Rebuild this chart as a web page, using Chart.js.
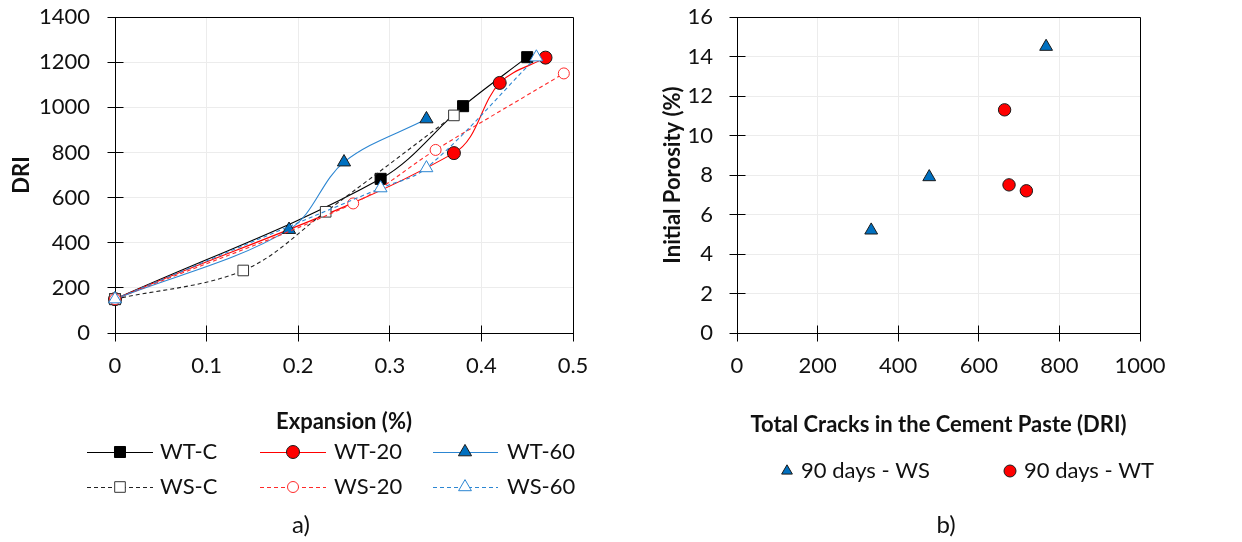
<!DOCTYPE html>
<html>
<head>
<meta charset="utf-8">
<script src="https://cdn.jsdelivr.net/npm/chart.js@4.4.1/dist/chart.umd.min.js"></script>
<style>
  html, body { margin: 0; padding: 0; background: #fff; }
  #wrap { position: relative; width: 1242px; height: 542px; background: #fff; overflow: hidden; }
  #cA { position: absolute; left: 0; top: 0; }
  #cB { position: absolute; left: 640px; top: 0; }
</style>
</head>
<body>
<div id="wrap">
  <canvas id="cA" width="640" height="542" style="width:640px;height:542px"></canvas>
  <canvas id="cB" width="602" height="542" style="width:602px;height:542px"></canvas>
</div>
<script>
// ---- Panel a): damage rating index against expansion ----
const expWTC  = [0, 0.29, 0.38, 0.45];
const driWTC  = [150, 683, 1005, 1222];
const expWT20 = [0, 0.37, 0.42, 0.47];
const driWT20 = [150, 797, 1108, 1220];
const expWT60 = [0, 0.19, 0.25, 0.34];
const driWT60 = [150, 458, 757, 948];
const expWSC  = [0, 0.14, 0.23, 0.37];
const driWSC  = [150, 277, 537, 964];
const expWS20 = [0, 0.26, 0.35, 0.49];
const driWS20 = [150, 574, 811, 1150];
const expWS60 = [0, 0.29, 0.34, 0.46];
const driWS60 = [150, 642, 731, 1222];
const expTicks = [0, 0.1, 0.2, 0.3, 0.4, 0.5];
const driTicks = [0, 200, 400, 600, 800, 1000, 1200, 1400];

// ---- Panel b): initial porosity against total cracks at 90 days ----
const cracksWS = [333, 477, 767];
const porosWS  = [5.2, 7.9, 14.5];
const cracksWT = [664, 675, 718];
const porosWT  = [11.3, 7.5, 7.2];
const crackTicks = [0, 200, 400, 600, 800, 1000];
const porosTicks = [0, 2, 4, 6, 8, 10, 12, 14, 16];

const FONT = 'Lato';
const INK = '#111';
const GRID = '#ececec';
const BLUE_LINE = '#2c86d2';
const BLUE_FILL = '#0070c0';

const pts = (xs, ys) => xs.map((x, i) => ({ x: x, y: ys[i] }));
const align = p => Math.round(p - 0.5) + 0.5;

// frame around the plot area, ticks crossing the axes, legend and panel letter
const decor = {
  id: 'decor',
  beforeDatasetsDraw(chart, args, o) {
    const { ctx } = chart;
    const xs = chart.scales.x, ys = chart.scales.y;
    const L = align(xs.getPixelForValue(xs.min)), R = align(xs.getPixelForValue(xs.max));
    const T = align(ys.getPixelForValue(ys.max)), B = align(ys.getPixelForValue(ys.min));
    ctx.save();
    ctx.strokeStyle = '#000';
    ctx.lineWidth = 1;
    ctx.beginPath();
    ctx.moveTo(L, T); ctx.lineTo(R, T); ctx.lineTo(R, B);
    for (const t of ys.ticks) {
      const y = align(ys.getPixelForValue(t.value));
      ctx.moveTo(L - 8, y); ctx.lineTo(L + 8, y);
    }
    for (const t of xs.ticks) {
      const x = align(xs.getPixelForValue(t.value));
      ctx.moveTo(x, B - 8); ctx.lineTo(x, B + 8);
    }
    ctx.stroke();
    ctx.restore();
  },
  afterDraw(chart, args, o) {
    const { ctx } = chart;
    ctx.save();
    ctx.font = '22px ' + FONT;
    ctx.fillStyle = INK;
    ctx.textBaseline = 'middle';
    ctx.textAlign = 'left';
    for (const it of o.items) {
      const ds = chart.data.datasets[it.ds];
      if (it.x1 !== undefined) {
        ctx.save();
        ctx.strokeStyle = ds.borderColor;
        ctx.lineWidth = ds.borderWidth;
        ctx.setLineDash(ds.borderDash || []);
        ctx.beginPath();
        ctx.moveTo(it.x1, it.y + 0.5); ctx.lineTo(it.x2, it.y + 0.5);
        ctx.stroke();
        ctx.restore();
      }
      ctx.save();
      ctx.fillStyle = ds.pointBackgroundColor;
      ctx.strokeStyle = ds.pointBorderColor;
      ctx.lineWidth = ds.pointBorderWidth;
      Chart.helpers.drawPoint(ctx, {
        pointStyle: ds.pointStyle,
        radius: it.r || ds.pointRadius,
        rotation: 0,
        borderWidth: ds.pointBorderWidth
      }, it.mx, it.y);
      ctx.restore();
      ctx.fillText(it.label, it.tx, it.y);
    }
    ctx.font = '24px ' + FONT;
    ctx.textAlign = 'center';
    ctx.fillText(o.tag.text, o.tag.x, o.tag.y);
    ctx.restore();
  }
};

function axis(ticksArr, min, max, title, size, tickPad, titlePad, fmt) {
  return {
    type: 'linear',
    min: min,
    max: max,
    afterBuildTicks: s => { s.ticks = ticksArr.map(v => ({ value: v })); },
    afterFit: s => {
      if (s.isHorizontal()) s.height = size; else s.width = size;
      // labels may overhang the plot edges; keep the plot area fixed
      s.paddingTop = 0; s.paddingBottom = 0; s.paddingLeft = 0; s.paddingRight = 0;
    },
    grid: { color: GRID, lineWidth: 1, drawTicks: false },
    border: { display: true, color: '#000', width: 1 },
    ticks: {
      padding: tickPad,
      color: INK,
      font: { family: FONT, size: 22 },
      callback: v => fmt(v)
    },
    title: {
      display: true,
      text: title,
      color: INK,
      font: { family: FONT, size: 22, weight: 'bold' },
      padding: titlePad
    }
  };
}

function buildCharts() {
  Chart.defaults.font.family = FONT;

  const lineDs = (label, xs, ys, color, dashed, style, r, fill, edge, order) => ({
    label: label,
    data: pts(xs, ys),
    order: order,
    showLine: true,
    tension: 0.35,
    borderColor: color,
    borderWidth: 1.1,
    borderDash: dashed ? [4, 3] : [],
    pointStyle: style,
    pointRadius: r,
    pointHoverRadius: r,
    pointBackgroundColor: fill,
    pointBorderColor: edge,
    pointBorderWidth: 1,
    clip: false
  });

  // later series are painted over earlier ones
  const dsA = [
    lineDs('WT-C',  expWTC,  driWTC,  '#000',    false, 'rect',     7.8, '#000',    '#000',    6),
    lineDs('WT-20', expWT20, driWT20, '#ff0000', false, 'circle',   6.5, '#ff0000', '#1a1a1a', 5),
    lineDs('WT-60', expWT60, driWT60, BLUE_LINE, false, 'triangle', 7.6, BLUE_FILL, '#1a1a1a', 4),
    lineDs('WS-C',  expWSC,  driWSC,  '#222',    true,  'rect',     7.5, '#fff',    '#333',    3),
    lineDs('WS-20', expWS20, driWS20, '#ff2a2a', true,  'circle',   5.5, '#fff',    '#ff2a2a', 2),
    lineDs('WS-60', expWS60, driWS60, BLUE_LINE, true,  'triangle', 7.4, '#fff',    BLUE_LINE, 1)
  ];

  new Chart(document.getElementById('cA'), {
    type: 'scatter',
    data: { datasets: dsA },
    plugins: [decor],
    options: {
      responsive: false,
      animation: false,
      events: [],
      layout: { padding: { top: 17, right: 67, bottom: 0, left: 0 } },
      scales: {
        x: axis(expTicks, 0, 0.5, 'Expansion (%)', 209, 20, { top: 0, bottom: 107 }, v => String(v)),
        y: axis(driTicks, 0, 1400, 'DRI', 115, 25, { top: 9, bottom: 0 }, v => String(v))
      },
      plugins: {
        legend: { display: false },
        tooltip: { enabled: false },
        decor: {
          items: [
            { ds: 0, label: 'WT-C',  x1: 87,  x2: 153, mx: 120, tx: 160, y: 452 },
            { ds: 1, label: 'WT-20', x1: 260, x2: 326, mx: 293, tx: 334, y: 452 },
            { ds: 2, label: 'WT-60', x1: 433, x2: 498, mx: 465, tx: 507, y: 452 },
            { ds: 3, label: 'WS-C',  x1: 87,  x2: 153, mx: 120, tx: 160, y: 487 },
            { ds: 4, label: 'WS-20', x1: 260, x2: 326, mx: 293, tx: 334, y: 487 },
            { ds: 5, label: 'WS-60', x1: 433, x2: 498, mx: 465, tx: 507, y: 487 }
          ],
          tag: { text: 'a)', x: 301, y: 525 }
        }
      }
    }
  });

  const dotDs = (label, xs, ys, style, r) => ({
    label: label,
    data: pts(xs, ys),
    showLine: false,
    pointStyle: style,
    pointRadius: r,
    pointHoverRadius: r,
    pointBackgroundColor: style === 'triangle' ? BLUE_FILL : '#ff0000',
    pointBorderColor: '#1a1a1a',
    pointBorderWidth: 1,
    clip: false
  });

  new Chart(document.getElementById('cB'), {
    type: 'scatter',
    data: {
      datasets: [
        dotDs('90 days - WS', cracksWS, porosWS, 'triangle', 7.4),
        dotDs('90 days - WT', cracksWT, porosWT, 'circle', 6.2)
      ]
    },
    plugins: [decor],
    options: {
      responsive: false,
      animation: false,
      events: [],
      layout: { padding: { top: 17, right: 102, bottom: 0, left: 0 } },
      scales: {
        x: axis(crackTicks, 0, 1000, 'Total Cracks in the Cement Paste (DRI)', 209, 20, { top: 0, bottom: 104 }, v => String(v)),
        y: axis(porosTicks, 0, 16, 'Initial Porosity (%)', 97, 24, { top: 20, bottom: 0 }, v => String(v))
      },
      plugins: {
        legend: { display: false },
        tooltip: { enabled: false },
        decor: {
          items: [
            { ds: 0, label: '90 days - WS', mx: 147, tx: 161, y: 471, r: 6.2 },
            { ds: 1, label: '90 days - WT', mx: 370, tx: 384, y: 471, r: 6 }
          ],
          tag: { text: 'b)', x: 306, y: 525 }
        }
      }
    }
  });
}

const fontsReady = (document.fonts && document.fonts.load)
  ? Promise.all([
      document.fonts.load('22px Lato'),
      document.fonts.load('bold 22px Lato')
    ]).catch(() => null)
  : Promise.resolve();
fontsReady.then(buildCharts);
</script>
</body>
</html>
